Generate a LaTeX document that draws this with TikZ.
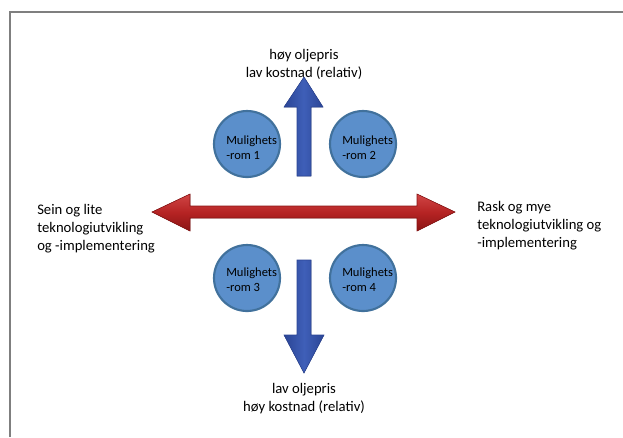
\documentclass[tikz,border=0pt]{standalone}
\usepackage{fontspec}
\setmainfont{Carlito}
\definecolor{roomfill}{HTML}{5B8FCB}
\definecolor{roomedge}{HTML}{41719C}
\definecolor{axisblue}{HTML}{3F5FB8}
\definecolor{axisbluedark}{HTML}{2B4595}
\definecolor{axisred}{HTML}{B52323}
\definecolor{axisredlight}{HTML}{D04545}
\definecolor{axisreddark}{HTML}{8A1414}
\definecolor{framegray}{HTML}{7F7F7F}
\begin{document}
\begin{tikzpicture}[x=0.75pt,y=-0.75pt,
  room/.style={circle, draw=roomedge, line width=1.6pt, fill=roomfill,
    minimum size=49.5pt, inner sep=0pt},
  roomtext/.style={font=\fontsize{9.4}{11.2}\selectfont, align=left, inner sep=0pt},
  label/.style={font=\fontsize{11}{13.4}\selectfont, inner sep=0pt},
  bluearrow/.style={left color=axisbluedark, right color=axisbluedark,
    middle color=axisblue, draw=axisbluedark, line width=0.4pt},
  redarrow/.style={top color=axisredlight, bottom color=axisreddark,
    middle color=axisred, draw=axisreddark, line width=0.4pt}]
\useasboundingbox (0,0) rectangle (623,437);
% frame lines
\draw[framegray, line width=1pt] (10,437) -- (10,12) -- (623,12);

% vertical axis: oil price / cost
\filldraw[bluearrow] (297,176) -- (297,107) -- (284,107) -- (304,77)
  -- (323,107) -- (311,107) -- (311,176) -- cycle;
\filldraw[bluearrow] (297,260) -- (311,260) -- (311,335) -- (324,335)
  -- (304,373) -- (284,335) -- (297,335) -- cycle;

% horizontal axis: technology development
\filldraw[redarrow] (152,212) -- (190,194) -- (190,206) -- (417,206)
  -- (417,194) -- (455,212) -- (417,231) -- (417,218) -- (190,218)
  -- (190,231) -- cycle;

% opportunity spaces
\node[room] (r1) at (247,144) {};
\node[room] (r2) at (363,144) {};
\node[room] (r3) at (247,278) {};
\node[room] (r4) at (363,278) {};
\node[roomtext] (t1) at ([xshift=3.5pt,yshift=-2.5pt]r1.center) {Mulighets\\-rom 1};
\node[roomtext] (t2) at ([xshift=3.5pt,yshift=-2.5pt]r2.center) {Mulighets\\-rom 2};
\node[roomtext] (t3) at ([xshift=3.5pt,yshift=-1.5pt]r3.center) {Mulighets\\-rom 3};
\node[roomtext] (t4) at ([xshift=3.5pt,yshift=-1.5pt]r4.center) {Mulighets\\-rom 4};

% axis labels
\node[label, align=center] (top) at (304,64) {høy oljepris\\lav kostnad (relativ)};
\node[label, align=center] (bottom) at (304,399) {lav oljepris\\høy kostnad (relativ)};
\node[label, align=left, anchor=west] (left) at (37,229) {Sein og lite\\teknologiutvikling\\og -implementering};
\node[label, align=left, anchor=west] (right) at (477,226) {Rask og mye\\teknologiutvikling og\\-implementering};
\end{tikzpicture}
\end{document}
